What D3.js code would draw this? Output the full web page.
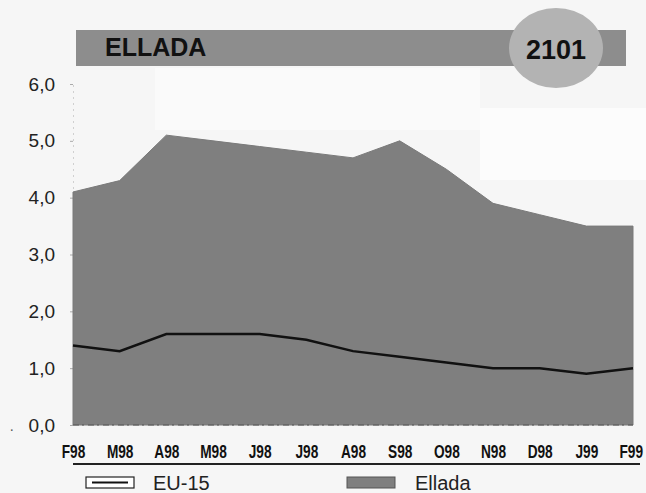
<!DOCTYPE html>
<html>
<head>
<meta charset="utf-8">
<script src="https://cdn.jsdelivr.net/npm/d3@7"></script>
<style>
  html, body { margin: 0; padding: 0; background: #f6f6f6; }
  svg { display: block; }
</style>
</head>
<body>
<svg id="chart" width="646" height="493"></svg>
<script>
const months = ["F98","M98","A98","M98","J98","J98","A98","S98","O98","N98","D98","J99","F99"];
const ellada = [4.1, 4.3, 5.1, 5.0, 4.9, 4.8, 4.7, 5.0, 4.5, 3.9, 3.7, 3.5, 3.5];
const eu15   = [1.4, 1.3, 1.6, 1.6, 1.6, 1.5, 1.3, 1.2, 1.1, 1.0, 1.0, 0.9, 1.0];
const yTicks = [0, 1, 2, 3, 4, 5, 6];
const titleText = "ELLADA";
const codeText = "2101";
const legendLabels = ["EU-15", "Ellada"];

const svg = d3.select("#chart");
const idx = d3.range(months.length);

const x = d3.scalePoint().domain(idx).range([73, 633]);
const y = d3.scaleLinear().domain([0, 6]).range([425, 84]);

const fmt = v => d3.format(".1f")(v).replace(".", ",");

// background patches (scan look)
svg.append("rect").attr("x", 0).attr("y", 0).attr("width", 646).attr("height", 493).attr("fill", "#f6f6f6");
svg.append("rect").attr("x", 155).attr("y", 68).attr("width", 325).attr("height", 62).attr("fill", "#fafafa");
svg.append("rect").attr("x", 480).attr("y", 108).attr("width", 166).attr("height", 72).attr("fill", "#fcfcfc");

// header bar
svg.append("rect").attr("x", 76).attr("y", 30).attr("width", 550).attr("height", 36).attr("fill", "#8d8d8d");
svg.append("text").attr("x", 105).attr("y", 56)
  .attr("font-family", "Liberation Sans, Arial, sans-serif").attr("font-weight", "bold")
  .attr("font-size", 25).attr("fill", "#111").text(titleText);
svg.append("ellipse").attr("cx", 556).attr("cy", 48).attr("rx", 47).attr("ry", 40).attr("fill", "#b3b3b3");
svg.append("text").attr("x", 556).attr("y", 59).attr("text-anchor", "middle")
  .attr("font-family", "Liberation Sans, Arial, sans-serif").attr("font-weight", "bold")
  .attr("font-size", 27).attr("fill", "#111").text(codeText);

// y axis labels
const yAxis = d3.axisLeft(y).tickValues(yTicks).tickFormat(fmt).tickSize(3).tickPadding(15);
const gy = svg.append("g").attr("transform", "translate(73,0)").call(yAxis);
gy.select(".domain").attr("stroke", "#d0d0d0").attr("stroke-dasharray", "2,4");
gy.selectAll(".tick line").attr("stroke", "#aaa");
gy.selectAll(".tick text").attr("font-family", "Liberation Sans, Arial, sans-serif")
  .attr("font-size", 19).attr("fill", "#222");
svg.append("text").attr("x", 10).attr("y", 431).attr("font-size", 14).attr("fill", "#555").text(".");

// area
const area = d3.area().x(i => x(i)).y0(y(0)).y1(i => y(ellada[i]));
svg.append("path").datum(idx).attr("d", area).attr("fill", "#7f7f7f").attr("stroke", "#7a7a7a").attr("stroke-width", 1);

// baseline
svg.append("line").attr("x1", 73).attr("x2", 633).attr("y1", y(0)).attr("y2", y(0))
  .attr("stroke", "#555").attr("stroke-width", 1.2).attr("stroke-dasharray", "6,3,2,4");

// EU-15 line
const line = d3.line().x(i => x(i)).y(i => y(eu15[i]));
svg.append("path").datum(idx).attr("d", line).attr("fill", "none").attr("stroke", "#111").attr("stroke-width", 2.5);

// x axis labels (condensed bold via horizontal scaling)
const xAxis = d3.axisBottom(x).tickFormat(i => months[i]).tickSize(0).tickPadding(0);
const gx = svg.append("g").attr("transform", "translate(0,458)").call(xAxis);
gx.select(".domain").remove();
gx.selectAll(".tick text").attr("dy", 0).attr("y", 0)
  .attr("font-family", "Liberation Sans, Arial, sans-serif")
  .attr("font-weight", "bold").attr("font-size", 18).attr("fill", "#111")
  .attr("transform", "scale(0.76,1)");
gx.selectAll(".tick").filter(i => i === months.length - 1).select("text").attr("x", -3);

// separator line
svg.append("line").attr("x1", 73).attr("x2", 640).attr("y1", 464).attr("y2", 464).attr("stroke", "#222").attr("stroke-width", 1.8);

// legend
const lg = svg.append("g");
lg.append("rect").attr("x", 86).attr("y", 477).attr("width", 48).attr("height", 11).attr("fill", "#fff").attr("stroke", "#222").attr("stroke-width", 1.2);
lg.append("line").attr("x1", 92).attr("x2", 128).attr("y1", 482.5).attr("y2", 482.5).attr("stroke", "#111").attr("stroke-width", 2);
lg.append("text").attr("x", 153).attr("y", 490).attr("font-family", "Liberation Sans, Arial, sans-serif")
  .attr("font-size", 20).attr("fill", "#222").text(legendLabels[0]);
lg.append("rect").attr("x", 347).attr("y", 477).attr("width", 48).attr("height", 11).attr("fill", "#7f7f7f").attr("stroke", "#555").attr("stroke-width", 1);
lg.append("text").attr("x", 415).attr("y", 490).attr("font-family", "Liberation Sans, Arial, sans-serif")
  .attr("font-size", 20).attr("fill", "#222").text(legendLabels[1]);
</script>
</body>
</html>
